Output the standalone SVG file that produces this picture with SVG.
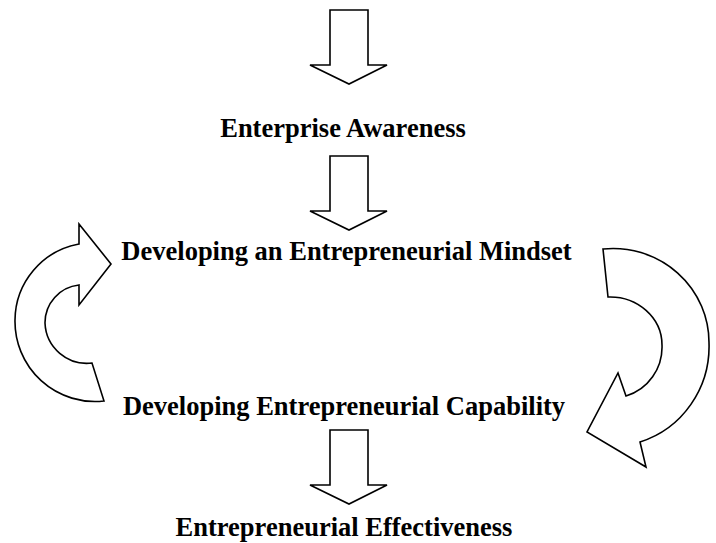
<svg xmlns="http://www.w3.org/2000/svg" width="716" height="543" viewBox="0 0 716 543">
<style>
.lbl{font-family:"Liberation Serif","Times New Roman",serif;font-weight:bold;font-size:26.5px;fill:#000;text-anchor:middle}
.shape{fill:#fff;stroke:#000;stroke-width:1.6;stroke-linejoin:miter}
</style>
<defs>
<path id="down" d="M330,0 H368 V55 H387 L349,74 L310,55 H330 Z"/>
</defs>
<g id="connectors">
<use href="#down" class="shape" transform="translate(0,10)"/>
<use href="#down" class="shape" transform="translate(0,156)"/>
<use href="#down" class="shape" transform="translate(0,430)"/>
<path class="shape" d="M79,224 L111,264 L79,305 L79,285 A38,38 0 0 0 45,323 A42,42 0 0 0 92,363 L104,401 A80,80 0 0 1 15,320 A78,78 0 0 1 79,244 Z"/>
<path class="shape" d="M603,249 A96,94 0 0 1 709,343 A98,100 0 0 1 640,442 L646,467 L587,432 L618,373 L626,396 A50,51 0 0 0 662,345 A52,48 0 0 0 608,297 Z"/>
</g>
<g id="n1"><text class="lbl" x="343" y="137">Enterprise Awareness</text></g>
<g id="n2"><text class="lbl" x="346.5" y="260">Developing an Entrepreneurial Mindset</text></g>
<g id="n3"><text class="lbl" x="344" y="415">Developing Entrepreneurial Capability</text></g>
<g id="n4"><text class="lbl" x="344" y="536">Entrepreneurial Effectiveness</text></g>
</svg>
